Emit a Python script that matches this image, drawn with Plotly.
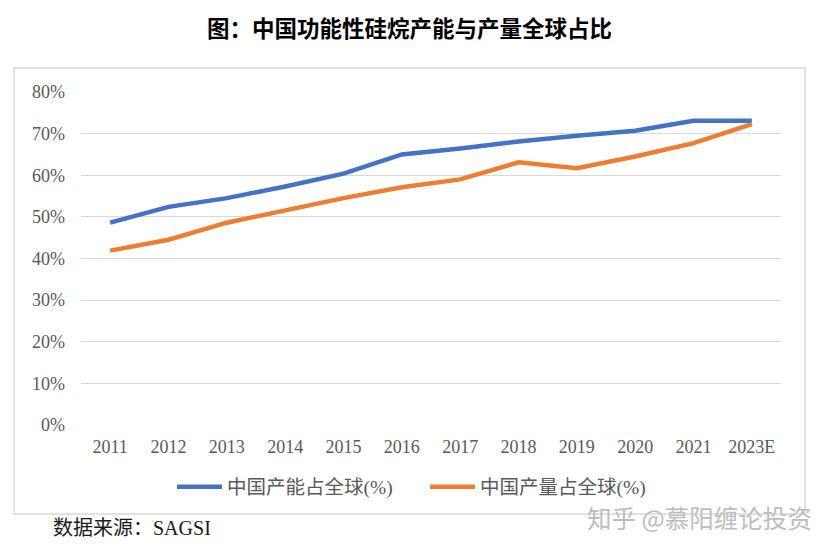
import plotly.graph_objects as go

years = ["2011", "2012", "2013", "2014", "2015", "2016", "2017", "2018", "2019", "2020", "2021", "2023E"]
capacity_share = [48.6, 52.4, 54.5, 57.3, 60.4, 65.0, 66.4, 68.1, 69.5, 70.7, 73.1, 73.1]
output_share = [41.9, 44.5, 48.6, 51.6, 54.5, 57.1, 59.0, 63.1, 61.7, 64.5, 67.7, 72.3]
name_capacity = "中国产能占全球(%)"
name_output = "中国产量占全球(%)"
y_ticks = [0, 10, 20, 30, 40, 50, 60, 70, 80]
y_tick_labels = [f"{v}%" for v in y_ticks]

W, H = 835, 552
L, R, T, B = 81, 54, 92, 127
PW, PH = W - L - R, H - T - B

def px(x):
    return (x - L) / PW

def py(y):
    return (H - B - y) / PH

FONT = "Liberation Serif, Noto Sans CJK SC, serif"
GRAY = "#595959"

fig = go.Figure()
fig.add_trace(go.Scatter(x=years, y=capacity_share, mode="lines", name=name_capacity,
                         line=dict(color="#4472C4", width=4.5)))
fig.add_trace(go.Scatter(x=years, y=output_share, mode="lines", name=name_output,
                         line=dict(color="#ED7D31", width=4.5)))

fig.update_layout(
    width=W, height=H,
    margin=dict(l=L, r=R, t=T, b=B, autoexpand=False),
    paper_bgcolor="white", plot_bgcolor="white",
    font=dict(family=FONT, size=18, color=GRAY),
    showlegend=True,
    legend=dict(orientation="h", x=px(172), xanchor="left", y=py(487), yanchor="middle",
                font=dict(size=19.5, color=GRAY, family=FONT), itemwidth=45,
                entrywidth=193, entrywidthmode="pixels",
                bgcolor="rgba(0,0,0,0)"),
    xaxis=dict(type="category", range=[-0.5, 11.5], showgrid=False, zeroline=False,
               showline=False, ticks="", tickfont=dict(size=18, color=GRAY, family=FONT),
               ticklabelstandoff=9),
    yaxis=dict(range=[0, 80], tickvals=y_ticks, ticktext=y_tick_labels, showgrid=True,
               gridcolor="#D9D9D9", gridwidth=1.3, zeroline=False, showline=False,
               ticks="", tickfont=dict(size=18, color=GRAY, family=FONT),
               ticklabelstandoff=15),
)

# outer chart border
fig.add_shape(type="rect", xref="paper", yref="paper",
              x0=px(14), x1=px(805), y0=py(514), y1=py(68),
              line=dict(color="#D9D9D9", width=1.5), layer="below")

fig.add_annotation(text="<b>图：中国功能性硅烷产能与产量全球占比</b>", xref="paper", yref="paper",
                   x=px(409), y=py(27), xanchor="center", yanchor="middle", showarrow=False,
                   font=dict(size=22.5, color="black", family="Noto Sans CJK SC, sans-serif"))
fig.add_annotation(text="数据来源：SAGSI", xref="paper", yref="paper",
                   x=px(51), y=py(528), xanchor="left", yanchor="middle", showarrow=False,
                   font=dict(size=20, color="#1a1a1a", family=FONT))
fig.add_annotation(text="知乎 @慕阳缠论投资", xref="paper", yref="paper",
                   x=px(814), y=py(517), xanchor="right", yanchor="middle", showarrow=False,
                   font=dict(size=24.5, color="#bdbdbd", family="Noto Sans CJK SC, sans-serif"))

fig.write_html("out.html", config={"displayModeBar": False},
               post_script="document.body.style.margin='0px';document.body.style.overflow='hidden';")
